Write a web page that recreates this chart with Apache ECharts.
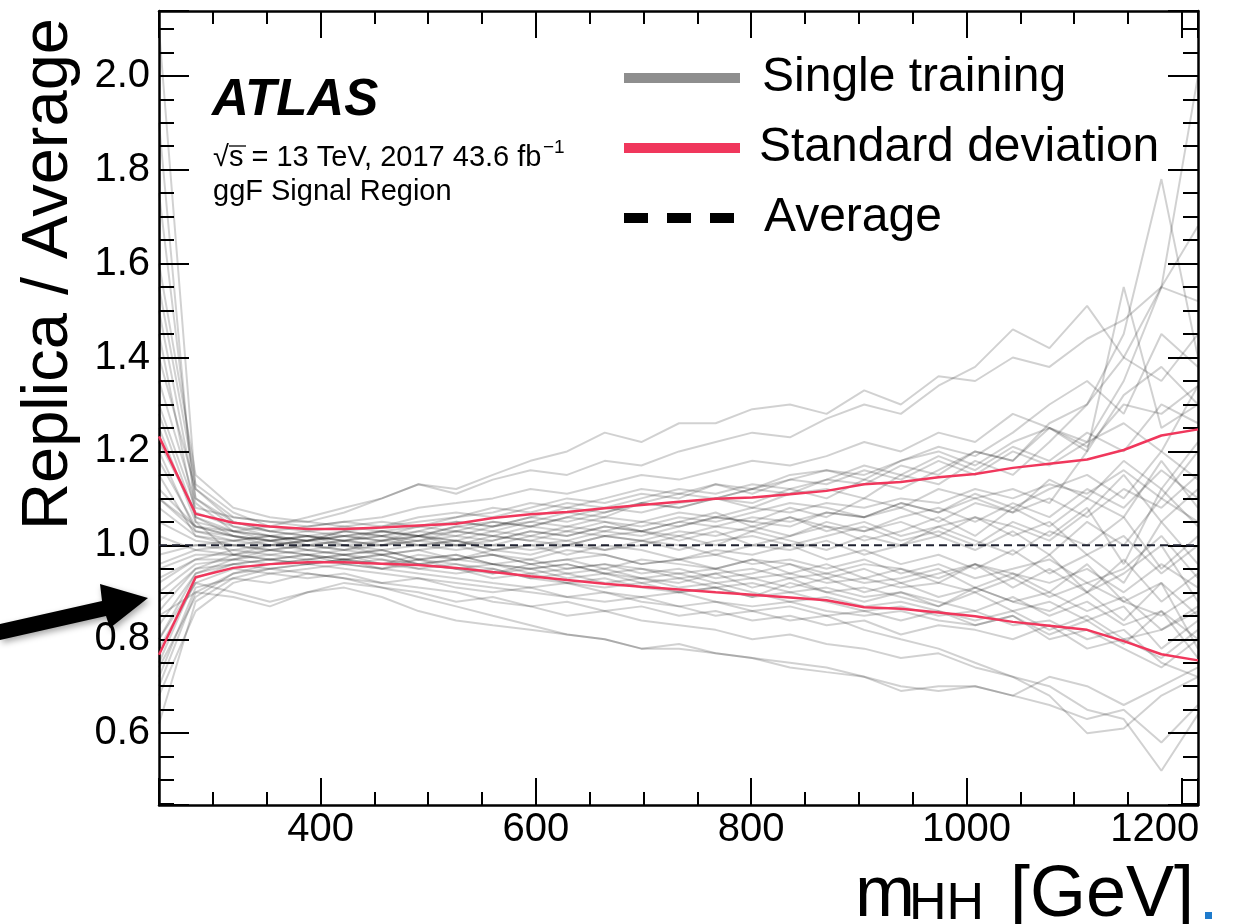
<!DOCTYPE html>
<html>
<head>
<meta charset="utf-8">
<script src="https://cdn.jsdelivr.net/npm/echarts@6/dist/echarts.min.js"></script>
<style>
  html, body { margin: 0; padding: 0; background: #fff; }
  #chart { width: 1255px; height: 924px; }
</style>
</head>
<body>
<div id="chart"></div>
<script>
// ---- data ----
const mHH = [250, 284, 319, 353, 388, 422, 457, 491, 526, 560, 595, 629, 664, 698, 733, 767, 801, 836, 870, 905, 939, 974, 1008, 1043, 1077, 1112, 1146, 1181, 1215];

const stdUpper = [1.232, 1.067, 1.048, 1.040, 1.035, 1.035, 1.038, 1.042, 1.046, 1.058, 1.066, 1.071, 1.079, 1.086, 1.093, 1.099, 1.102, 1.109, 1.116, 1.130, 1.135, 1.145, 1.152, 1.165, 1.174, 1.183, 1.203, 1.234, 1.247];
const stdLower = [0.767, 0.932, 0.952, 0.960, 0.964, 0.964, 0.961, 0.958, 0.952, 0.943, 0.934, 0.926, 0.918, 0.912, 0.906, 0.900, 0.895, 0.889, 0.883, 0.868, 0.865, 0.857, 0.849, 0.837, 0.829, 0.820, 0.796, 0.768, 0.755];
const average  = [1.0, 1.0, 1.0, 1.0, 1.0, 1.0, 1.0, 1.0, 1.0, 1.0, 1.0, 1.0, 1.0, 1.0, 1.0, 1.0, 1.0, 1.0, 1.0, 1.0, 1.0, 1.0, 1.0, 1.0, 1.0, 1.0, 1.0, 1.0, 1.0];

const rep01 = [2.10, 1.12, 1.05, 1.03, 1.02, 1.03, 1.04, 1.05, 1.06, 1.07, 1.09, 1.08, 1.10, 1.12, 1.11, 1.13, 1.12, 1.15, 1.16, 1.14, 1.18, 1.20, 1.17, 1.22, 1.25, 1.21, 1.30, 1.28, 1.34];
const rep02 = [1.90, 1.05, 0.98, 0.97, 0.96, 0.97, 0.95, 0.94, 0.93, 0.92, 0.91, 0.92, 0.90, 0.89, 0.90, 0.88, 0.87, 0.88, 0.86, 0.85, 0.86, 0.84, 0.83, 0.85, 0.80, 0.82, 0.78, 0.74, 0.80];
const rep03 = [1.30, 1.08, 1.06, 1.05, 1.05, 1.07, 1.10, 1.13, 1.12, 1.15, 1.18, 1.20, 1.24, 1.22, 1.26, 1.26, 1.29, 1.30, 1.28, 1.33, 1.30, 1.36, 1.35, 1.40, 1.38, 1.44, 1.48, 1.55, 1.52];
const rep04 = [0.80, 0.92, 0.90, 0.88, 0.90, 0.91, 0.89, 0.86, 0.84, 0.83, 0.82, 0.81, 0.80, 0.78, 0.79, 0.77, 0.76, 0.75, 0.74, 0.72, 0.70, 0.69, 0.70, 0.68, 0.66, 0.63, 0.65, 0.58, 0.66];
const rep05 = [1.05, 1.01, 1.00, 1.01, 1.02, 1.01, 1.00, 1.02, 1.01, 1.03, 1.02, 1.04, 1.03, 1.05, 1.04, 1.06, 1.05, 1.04, 1.07, 1.06, 1.08, 1.05, 1.09, 1.07, 1.10, 1.06, 1.12, 1.08, 1.15];
const rep06 = [0.92, 0.97, 0.99, 0.98, 0.99, 0.98, 0.99, 0.97, 0.98, 0.96, 0.97, 0.95, 0.96, 0.95, 0.94, 0.95, 0.93, 0.94, 0.92, 0.93, 0.91, 0.92, 0.90, 0.93, 0.89, 0.92, 0.88, 0.85, 0.90];
const rep07 = [1.75, 1.10, 1.04, 1.02, 1.01, 1.02, 1.03, 1.02, 1.04, 1.05, 1.04, 1.06, 1.08, 1.07, 1.09, 1.10, 1.08, 1.11, 1.12, 1.10, 1.15, 1.13, 1.18, 1.15, 1.22, 1.30, 1.45, 1.78, 1.40];
const rep08 = [0.62, 0.88, 0.93, 0.95, 0.96, 0.97, 0.96, 0.98, 0.97, 0.99, 0.98, 1.00, 0.99, 1.01, 1.00, 0.98, 1.00, 0.99, 1.01, 0.98, 1.00, 1.02, 0.99, 1.03, 0.98, 1.05, 1.00, 1.10, 1.05];
const rep09 = [1.45, 1.06, 1.02, 1.00, 0.99, 1.00, 0.98, 0.99, 1.00, 0.98, 0.97, 0.99, 0.98, 0.96, 0.97, 0.98, 0.96, 0.97, 0.95, 0.97, 0.94, 0.96, 0.93, 0.95, 0.97, 0.92, 0.95, 1.02, 0.93];
const rep10 = [1.20, 1.03, 1.01, 1.02, 1.03, 1.04, 1.05, 1.04, 1.06, 1.08, 1.07, 1.09, 1.08, 1.10, 1.12, 1.11, 1.13, 1.12, 1.14, 1.17, 1.15, 1.19, 1.16, 1.21, 1.18, 1.24, 1.20, 1.30, 1.26];
const rep11 = [0.75, 0.93, 0.96, 0.97, 0.98, 0.97, 0.96, 0.95, 0.94, 0.95, 0.93, 0.92, 0.93, 0.91, 0.90, 0.91, 0.89, 0.90, 0.88, 0.86, 0.87, 0.85, 0.86, 0.83, 0.84, 0.80, 0.82, 0.75, 0.72];
const rep12 = [1.55, 1.13, 1.07, 1.04, 1.03, 1.02, 1.01, 1.00, 1.01, 0.99, 1.00, 1.01, 1.03, 1.02, 1.04, 1.06, 1.05, 1.08, 1.06, 1.10, 1.08, 1.12, 1.10, 1.07, 1.14, 1.10, 1.18, 1.12, 1.22];
const rep13 = [0.85, 0.90, 0.89, 0.87, 0.90, 0.92, 0.91, 0.90, 0.88, 0.89, 0.87, 0.88, 0.86, 0.87, 0.85, 0.86, 0.84, 0.85, 0.83, 0.84, 0.81, 0.83, 0.82, 0.80, 0.83, 0.78, 0.80, 0.76, 0.82];
const rep14 = [1.10, 1.04, 1.03, 1.04, 1.06, 1.08, 1.10, 1.13, 1.11, 1.14, 1.16, 1.15, 1.18, 1.17, 1.20, 1.22, 1.24, 1.23, 1.27, 1.30, 1.28, 1.34, 1.38, 1.46, 1.42, 1.51, 1.40, 1.35, 1.45];
const rep15 = [0.88, 0.95, 0.96, 0.95, 0.94, 0.93, 0.92, 0.91, 0.90, 0.88, 0.87, 0.85, 0.86, 0.84, 0.83, 0.82, 0.80, 0.81, 0.79, 0.78, 0.76, 0.77, 0.74, 0.72, 0.70, 0.65, 0.63, 0.52, 0.64];
const rep16 = [1.15, 1.02, 1.01, 1.00, 1.01, 1.02, 1.01, 1.03, 1.02, 1.01, 1.03, 1.02, 1.04, 1.03, 1.02, 1.04, 1.03, 1.06, 1.04, 1.03, 1.06, 1.08, 1.05, 1.09, 1.06, 1.12, 1.08, 1.16, 1.10];
const rep17 = [0.70, 0.90, 0.94, 0.96, 0.97, 0.98, 0.97, 0.96, 0.95, 0.94, 0.95, 0.93, 0.94, 0.92, 0.93, 0.91, 0.92, 0.90, 0.91, 0.89, 0.90, 0.88, 0.86, 0.89, 0.85, 0.88, 0.83, 0.86, 0.80];
const rep18 = [0.95, 0.98, 0.98, 0.99, 0.98, 0.99, 1.00, 1.01, 1.02, 1.04, 1.05, 1.07, 1.06, 1.09, 1.08, 1.10, 1.12, 1.11, 1.14, 1.13, 1.17, 1.15, 1.20, 1.18, 1.25, 1.22, 1.35, 1.55, 1.68];
const rep19 = [1.35, 1.09, 1.03, 1.01, 0.99, 0.98, 0.99, 0.97, 0.98, 0.96, 0.95, 0.96, 0.94, 0.95, 0.93, 0.94, 0.95, 0.93, 0.94, 0.92, 0.93, 0.95, 0.91, 0.94, 0.90, 0.96, 0.88, 0.92, 0.85];
const rep20 = [0.72, 0.91, 0.93, 0.92, 0.94, 0.93, 0.91, 0.89, 0.87, 0.85, 0.83, 0.81, 0.80, 0.78, 0.78, 0.77, 0.76, 0.74, 0.73, 0.72, 0.69, 0.70, 0.70, 0.68, 0.72, 0.70, 0.66, 0.70, 0.74];
const rep21 = [1.25, 1.05, 1.03, 1.02, 1.00, 1.01, 1.02, 1.00, 0.99, 1.00, 1.02, 1.01, 0.99, 1.00, 1.02, 1.00, 1.03, 1.01, 0.99, 1.02, 1.00, 1.04, 1.01, 0.98, 1.03, 1.00, 1.06, 0.95, 1.02];
const rep22 = [0.80, 0.94, 0.97, 0.99, 1.00, 0.99, 1.01, 1.02, 1.03, 1.02, 1.04, 1.03, 1.05, 1.04, 1.06, 1.05, 1.07, 1.09, 1.08, 1.06, 1.09, 1.07, 1.11, 1.08, 1.12, 1.15, 1.10, 1.20, 1.14];
const rep23 = [1.00, 1.00, 1.01, 1.02, 1.01, 1.03, 1.02, 1.04, 1.05, 1.04, 1.06, 1.05, 1.07, 1.09, 1.08, 1.10, 1.09, 1.12, 1.10, 1.14, 1.12, 1.16, 1.20, 1.18, 1.26, 1.30, 1.40, 1.55, 2.00];
const rep24 = [1.02, 0.99, 0.98, 0.97, 0.98, 0.96, 0.97, 0.95, 0.96, 0.94, 0.96, 0.94, 0.95, 0.93, 0.92, 0.94, 0.91, 0.93, 0.90, 0.91, 0.89, 0.87, 0.90, 0.86, 0.88, 0.84, 0.87, 0.78, 0.84];
const rep25 = [1.40, 1.12, 1.06, 1.05, 1.04, 1.05, 1.06, 1.08, 1.09, 1.10, 1.12, 1.11, 1.13, 1.15, 1.14, 1.16, 1.18, 1.17, 1.19, 1.22, 1.20, 1.24, 1.22, 1.28, 1.25, 1.20, 1.32, 1.38, 1.30];
const rep26 = [0.68, 0.86, 0.92, 0.94, 0.95, 0.96, 0.95, 0.97, 0.96, 0.95, 0.93, 0.94, 0.92, 0.93, 0.91, 0.92, 0.90, 0.88, 0.89, 0.87, 0.88, 0.86, 0.84, 0.86, 0.82, 0.85, 0.80, 0.82, 0.86];
const rep27 = [1.10, 1.03, 1.02, 1.01, 1.02, 1.00, 1.01, 1.02, 1.00, 1.01, 1.03, 1.02, 1.04, 1.03, 1.05, 1.04, 1.06, 1.05, 1.07, 1.06, 1.09, 1.07, 1.10, 1.12, 1.09, 1.20, 1.55, 1.25, 1.30];
const rep28 = [0.90, 0.96, 0.97, 0.98, 0.97, 0.98, 0.96, 0.97, 0.95, 0.96, 0.94, 0.95, 0.96, 0.94, 0.95, 0.93, 0.94, 0.96, 0.93, 0.95, 0.92, 0.94, 0.96, 0.91, 0.95, 0.90, 0.97, 0.88, 0.94];
const rep29 = [0.78, 0.92, 0.95, 0.94, 0.93, 0.94, 0.92, 0.93, 0.91, 0.90, 0.91, 0.89, 0.88, 0.89, 0.87, 0.85, 0.86, 0.84, 0.85, 0.82, 0.80, 0.78, 0.75, 0.72, 0.68, 0.60, 0.61, 0.68, 0.72];
const rep30 = [1.60, 1.15, 1.08, 1.06, 1.05, 1.04, 1.03, 1.04, 1.03, 1.05, 1.04, 1.06, 1.05, 1.03, 1.05, 1.07, 1.04, 1.06, 1.03, 1.05, 1.02, 1.04, 1.06, 1.02, 1.05, 0.98, 1.02, 0.94, 1.00];
const rep31 = [0.98, 1.00, 0.99, 1.00, 1.01, 1.00, 0.99, 1.00, 1.01, 0.99, 1.00, 0.98, 1.00, 0.99, 0.97, 0.99, 0.98, 1.00, 0.97, 0.99, 0.96, 0.98, 0.95, 0.99, 0.94, 0.98, 0.92, 1.05, 0.96];
const rep32 = [1.22, 1.07, 1.04, 1.03, 1.04, 1.05, 1.04, 1.06, 1.07, 1.06, 1.08, 1.10, 1.09, 1.11, 1.10, 1.13, 1.11, 1.14, 1.16, 1.15, 1.18, 1.21, 1.19, 1.24, 1.30, 1.35, 1.28, 1.45, 1.38];
const rep33 = [0.86, 0.95, 0.98, 1.00, 1.01, 1.02, 1.03, 1.02, 1.01, 1.00, 0.99, 1.00, 1.02, 1.01, 0.99, 1.01, 1.02, 1.00, 1.02, 1.04, 1.01, 1.03, 1.00, 1.05, 1.02, 1.08, 0.96, 1.12, 1.04];
const rep34 = [1.08, 1.02, 1.00, 0.99, 0.98, 0.97, 0.98, 0.96, 0.97, 0.98, 0.96, 0.97, 0.95, 0.97, 0.96, 0.95, 0.97, 0.94, 0.96, 0.93, 0.95, 0.92, 0.96, 0.93, 0.98, 0.90, 0.94, 1.00, 0.88];
const rep35 = [1.18, 1.04, 1.02, 1.01, 1.00, 1.01, 1.00, 1.01, 1.03, 1.02, 1.01, 1.03, 1.02, 1.01, 1.03, 1.02, 1.04, 1.02, 1.05, 1.03, 1.05, 1.02, 1.06, 1.04, 1.01, 1.07, 1.15, 1.05, 1.12];
const rep36 = [0.93, 0.97, 0.97, 0.96, 0.97, 0.96, 0.95, 0.96, 0.95, 0.93, 0.94, 0.92, 0.91, 0.92, 0.90, 0.91, 0.89, 0.92, 0.90, 0.88, 0.90, 0.87, 0.91, 0.88, 0.86, 0.90, 0.84, 0.92, 0.78];
const rep37 = [1.12, 1.04, 1.02, 1.01, 1.02, 1.01, 1.03, 1.02, 1.04, 1.03, 1.05, 1.04, 1.06, 1.05, 1.07, 1.06, 1.08, 1.07, 1.09, 1.08, 1.10, 1.09, 1.12, 1.10, 1.13, 1.11, 1.16, 1.10, 1.20];
const rep38 = [0.83, 0.94, 0.96, 0.97, 0.96, 0.97, 0.98, 0.96, 0.97, 0.96, 0.95, 0.96, 0.94, 0.93, 0.94, 0.92, 0.93, 0.91, 0.93, 0.90, 0.92, 0.89, 0.91, 0.88, 0.90, 0.86, 0.89, 0.82, 0.87];
const rep39 = [1.28, 1.06, 1.03, 1.02, 1.01, 1.03, 1.02, 1.03, 1.05, 1.04, 1.06, 1.08, 1.07, 1.09, 1.11, 1.10, 1.12, 1.14, 1.13, 1.16, 1.14, 1.18, 1.15, 1.20, 1.17, 1.22, 1.26, 1.20, 1.34];
const rep40 = [0.96, 0.99, 1.00, 0.99, 1.00, 0.99, 0.98, 0.99, 0.97, 0.98, 0.96, 0.97, 0.98, 0.96, 0.97, 0.95, 0.97, 0.96, 0.94, 0.96, 0.95, 0.93, 0.96, 0.94, 0.92, 0.95, 0.90, 0.96, 0.91];
const rep41 = [1.50, 1.10, 1.05, 1.03, 1.02, 1.01, 1.02, 1.01, 1.00, 1.02, 1.01, 1.00, 1.02, 1.03, 1.01, 1.03, 1.00, 1.02, 1.04, 1.01, 1.03, 1.06, 1.02, 1.08, 1.04, 1.10, 1.06, 1.18, 1.08];
const rep42 = [0.74, 0.89, 0.94, 0.95, 0.96, 0.95, 0.94, 0.93, 0.92, 0.91, 0.90, 0.89, 0.90, 0.88, 0.87, 0.88, 0.86, 0.87, 0.85, 0.86, 0.84, 0.86, 0.83, 0.85, 0.81, 0.84, 0.79, 0.86, 0.76];

const replicas = [rep01, rep02, rep03, rep04, rep05, rep06, rep07, rep08, rep09, rep10, rep11, rep12,
  rep13, rep14, rep15, rep16, rep17, rep18, rep19, rep20, rep21, rep22, rep23, rep24,
  rep25, rep26, rep27, rep28, rep29, rep30, rep31, rep32, rep33, rep34, rep35, rep36,
  rep37, rep38, rep39, rep40, rep41, rep42];

const xTickLabels = [400, 600, 800, 1000, 1200];
const yTickLabels = [0.6, 0.8, 1.0, 1.2, 1.4, 1.6, 1.8, 2.0];

// ---- chart ----
const FONT = "'Liberation Sans', Arial, Helvetica, sans-serif";
const RED = '#f0375c';
const pairs = (ys) => mHH.map((x, i) => [x, ys[i]]);

const chart = echarts.init(document.getElementById('chart'), null, { renderer: 'canvas' });

function isTick(v, list) {
  return list.some(t => Math.abs(t - v) < 1e-6);
}

const commonAxisLine = { show: true, onZero: false, lineStyle: { color: '#000', width: 2.5 } };
const lastX = xTickLabels[xTickLabels.length - 1];

const series = [];
replicas.forEach((r) => {
  series.push({
    name: 'Single training',
    type: 'line',
    data: pairs(r),
    showSymbol: false,
    silent: true,
    z: 2,
    lineStyle: { color: 'rgba(0,0,0,0.18)', width: 2 }
  });
});
series.push({
  name: 'Average', type: 'line', data: pairs(average), showSymbol: false, silent: true, z: 4,
  lineStyle: { color: '#1f2231', width: 2, type: [8, 5] }
});
series.push({
  name: 'Standard deviation', type: 'line', data: pairs(stdUpper), showSymbol: false, silent: true, z: 5,
  lineStyle: { color: RED, width: 2.5 }
});
series.push({
  name: 'Standard deviation', type: 'line', data: pairs(stdLower), showSymbol: false, silent: true, z: 5,
  lineStyle: { color: RED, width: 2.5 }
});

const option = {
  animation: false,
  backgroundColor: '#fff',
  grid: { left: 159, right: 57, top: 11, bottom: 119, containLabel: false },
  xAxis: [
    {
      type: 'value', position: 'bottom', min: 250, max: 1215, splitNumber: 5,
      axisLine: commonAxisLine,
      axisTick: { show: true, inside: true, length: 27, lineStyle: { color: '#000', width: 2 } },
      minorTick: { show: true, splitNumber: 4, length: 13, lineStyle: { color: '#000', width: 2 } },
      splitLine: { show: false },
      axisLabel: {
        show: true, margin: 5, color: '#000', fontSize: 40, fontFamily: FONT,
        showMinLabel: false, showMaxLabel: false,
        formatter: v => {
          if (!isTick(v, xTickLabels)) return '';
          return Math.abs(v - lastX) < 1e-6 ? '{last|' + v + '}' : String(v);
        },
        rich: { last: { fontSize: 40, fontFamily: FONT, color: '#000', padding: [0, 54, 0, 0] } }
      }
    },
    {
      type: 'value', position: 'top', min: 250, max: 1215, splitNumber: 5,
      axisLine: commonAxisLine,
      axisTick: { show: true, inside: true, length: 27, lineStyle: { color: '#000', width: 2 } },
      minorTick: { show: true, splitNumber: 4, length: 13, lineStyle: { color: '#000', width: 2 } },
      splitLine: { show: false },
      axisLabel: { show: false }
    }
  ],
  yAxis: [
    {
      type: 'value', position: 'left', min: 0.447, max: 2.138, splitNumber: 8,
      axisLine: commonAxisLine,
      axisTick: { show: true, inside: true, length: 30, lineStyle: { color: '#000', width: 2 } },
      minorTick: { show: true, splitNumber: 4, length: 15, lineStyle: { color: '#000', width: 2 } },
      splitLine: { show: false },
      axisLabel: {
        show: true, margin: 9, color: '#000', fontSize: 40, fontFamily: FONT,
        showMinLabel: false, showMaxLabel: false,
        formatter: v => isTick(v, yTickLabels) ? v.toFixed(1) : ''
      }
    },
    {
      type: 'value', position: 'right', min: 0.447, max: 2.138, splitNumber: 8,
      axisLine: commonAxisLine,
      axisTick: { show: true, inside: true, length: 30, lineStyle: { color: '#000', width: 2 } },
      minorTick: { show: true, splitNumber: 4, length: 15, lineStyle: { color: '#000', width: 2 } },
      splitLine: { show: false },
      axisLabel: { show: false }
    }
  ],
  series: series,
  graphic: [
    // y-axis title
    { type: 'text', x: 49, y: 274, rotation: Math.PI / 2, z: 10,
      style: { text: 'Replica / Average', fontSize: 65, fontFamily: FONT, fill: '#000', align: 'center', verticalAlign: 'middle' } },
    // x-axis title
    { type: 'text', x: 855, y: 896, z: 10,
      style: { text: 'm', fontSize: 72, fontFamily: FONT, fill: '#000', align: 'left', verticalAlign: 'middle' } },
    { type: 'text', x: 909, y: 905, z: 10,
      style: { text: 'HH', fontSize: 52, fontFamily: FONT, fill: '#000', align: 'left', verticalAlign: 'middle' } },
    { type: 'text', x: 1010, y: 896, z: 10,
      style: { text: '[GeV]', fontSize: 72, fontFamily: FONT, fill: '#000', align: 'left', verticalAlign: 'middle' } },
    { type: 'rect', z: 10, shape: { x: 1205, y: 912, width: 7, height: 7 }, style: { fill: '#1f7bcc' } },
    // ATLAS label
    { type: 'text', x: 212, y: 101, z: 10,
      style: { text: 'ATLAS', fontSize: 51, fontWeight: 'bold', fontStyle: 'italic', fontFamily: FONT, fill: '#000', align: 'left', verticalAlign: 'middle' } },
    { type: 'text', x: 213, y: 158, z: 10,
      style: { text: '\u221As = 13 TeV, 2017 43.6 fb', fontSize: 29, fontFamily: FONT, fill: '#000', align: 'left', verticalAlign: 'middle' } },
    { type: 'text', x: 543, y: 148, z: 10,
      style: { text: '\u22121', fontSize: 19, fontFamily: FONT, fill: '#000', align: 'left', verticalAlign: 'middle' } },
    { type: 'line', z: 10, shape: { x1: 229, y1: 146, x2: 246, y2: 146 }, style: { stroke: '#000', lineWidth: 1.3 } },
    { type: 'text', x: 213, y: 192, z: 10,
      style: { text: 'ggF Signal Region', fontSize: 29, fontFamily: FONT, fill: '#000', align: 'left', verticalAlign: 'middle' } },
    // legend
    { type: 'line', z: 10, shape: { x1: 624, y1: 78, x2: 740, y2: 78 }, style: { stroke: '#8e8e8e', lineWidth: 10 } },
    { type: 'text', x: 762, y: 78, z: 10,
      style: { text: 'Single training', fontSize: 48, fontFamily: FONT, fill: '#000', align: 'left', verticalAlign: 'middle' } },
    { type: 'line', z: 10, shape: { x1: 624, y1: 148, x2: 740, y2: 148 }, style: { stroke: RED, lineWidth: 10 } },
    { type: 'text', x: 759, y: 148, z: 10,
      style: { text: 'Standard deviation', fontSize: 48, fontFamily: FONT, fill: '#000', align: 'left', verticalAlign: 'middle' } },
    { type: 'line', z: 10, shape: { x1: 624, y1: 218, x2: 740, y2: 218 }, style: { stroke: '#000', lineWidth: 10, lineDash: [24, 19] } },
    { type: 'text', x: 764, y: 218, z: 10,
      style: { text: 'Average', fontSize: 48, fontFamily: FONT, fill: '#000', align: 'left', verticalAlign: 'middle' } },
    // arrow
    { type: 'polygon', z: 10,
      shape: { points: [[0, 624], [102, 601], [100, 584], [148, 598], [110, 628], [106, 616], [0, 640]] },
      style: { fill: '#000', shadowBlur: 6, shadowColor: 'rgba(0,0,0,0.35)', shadowOffsetX: 2, shadowOffsetY: 3 } }
  ]
};

chart.setOption(option);
</script>
</body>
</html>
